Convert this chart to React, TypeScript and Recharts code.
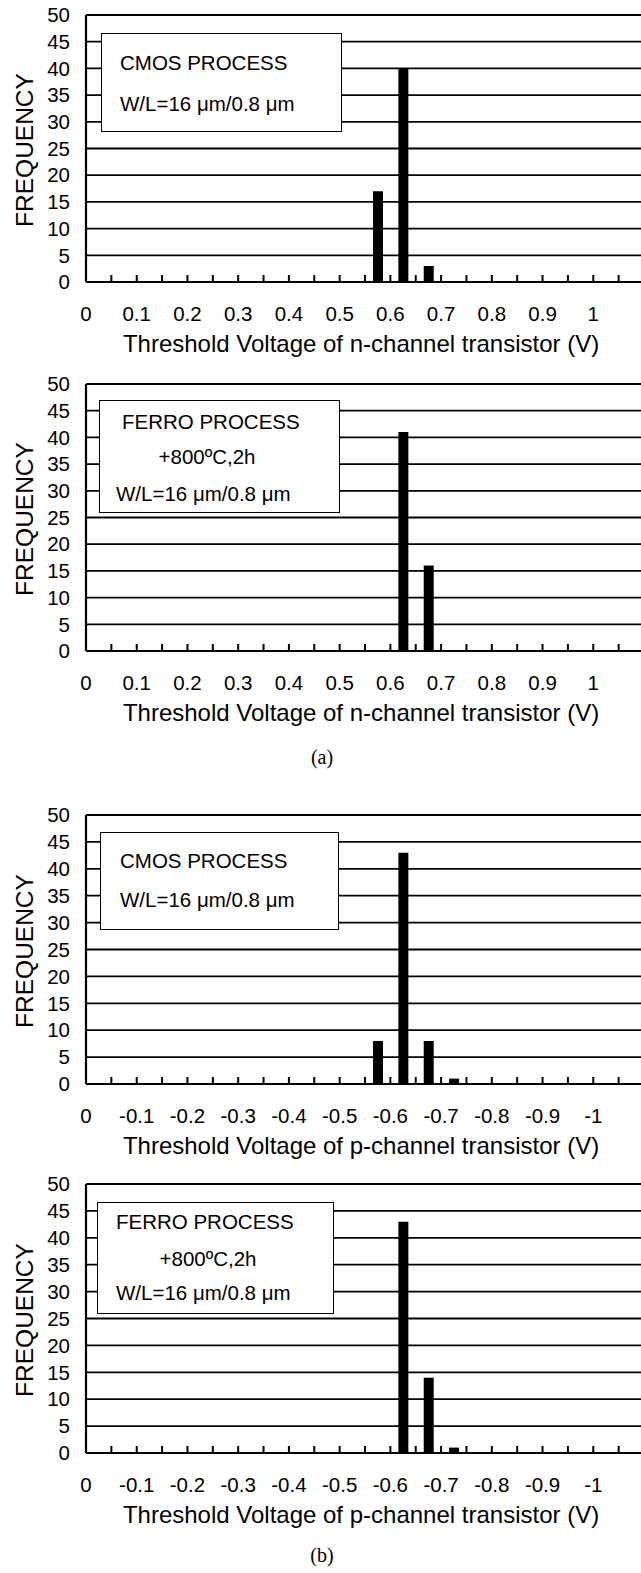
import { BarChart, Bar, XAxis, YAxis, CartesianGrid } from "recharts";

// bin centres (V) and counts
const nCmosBins = [0.575, 0.625, 0.675];
const nCmosCounts = [17, 40, 3];
const nFerroBins = [0.625, 0.675];
const nFerroCounts = [41, 16];
const pCmosBins = [-0.575, -0.625, -0.675, -0.725];
const pCmosCounts = [8, 43, 8, 1];
const pFerroBins = [-0.625, -0.675, -0.725];
const pFerroCounts = [43, 14, 1];

// x axis: tick marks every 0.05 V, labels every 0.1 V
const nTickMarks = [0, 0.05, 0.1, 0.15, 0.2, 0.25, 0.3, 0.35, 0.4, 0.45, 0.5, 0.55, 0.6, 0.65, 0.7, 0.75, 0.8, 0.85, 0.9, 0.95, 1, 1.05];
const nLabelValues = [0, 0.1, 0.2, 0.3, 0.4, 0.5, 0.6, 0.7, 0.8, 0.9, 1];
const nTickLabels = ["0", "0.1", "0.2", "0.3", "0.4", "0.5", "0.6", "0.7", "0.8", "0.9", "1"];
const pTickMarks = [0, -0.05, -0.1, -0.15, -0.2, -0.25, -0.3, -0.35, -0.4, -0.45, -0.5, -0.55, -0.6, -0.65, -0.7, -0.75, -0.8, -0.85, -0.9, -0.95, -1, -1.05];
const pLabelValues = [0, -0.1, -0.2, -0.3, -0.4, -0.5, -0.6, -0.7, -0.8, -0.9, -1];
const pTickLabels = ["0", "-0.1", "-0.2", "-0.3", "-0.4", "-0.5", "-0.6", "-0.7", "-0.8", "-0.9", "-1"];

const freqTicks = [0, 5, 10, 15, 20, 25, 30, 35, 40, 45, 50];

const cmosLines = ["CMOS PROCESS", "W/L=16 μm/0.8 μm"];
const ferroLines = ["FERRO PROCESS", "+800ºC,2h", "W/L=16 μm/0.8 μm"];

const FONT = '"Liberation Sans", Arial, Helvetica, sans-serif';
const AXIS_LEFT = 86;
const PLOT_W = 558;
const TICK_FONT = 20.5;
const TICK_LEN = 7; // ticks point up into the plot

function makeXTick(values: number[], labels: string[]) {
  return (props: any) => {
    const { x, y, payload } = props;
    const idx = values.findIndex((v) => Math.abs(v - payload.value) < 1e-9);
    if (idx < 0) return <g />;
    return (
      <text
        x={x}
        y={y + TICK_LEN + 31.5}
        textAnchor="middle"
        dominantBaseline="central"
        fontFamily={FONT}
        fontSize={TICK_FONT}
        fill="#000"
      >
        {labels[idx]}
      </text>
    );
  };
}

type BoxLine = { text: string; y: number; left?: number; center?: number };

interface PanelProps {
  plotTop: number;
  plotH: number;
  bins: number[];
  counts: number[];
  negative: boolean;
  title: string;
  box: { left: number; top: number; width: number; height: number };
  lines: BoxLine[];
}

function Panel({ plotTop, plotH, bins, counts, negative, title, box, lines }: PanelProps) {
  const data = bins.map((b, i) => ({ v: b, count: counts[i] }));
  const panelTop = plotTop - 15;
  const marks = negative ? pTickMarks : nTickMarks;
  const tick = negative
    ? makeXTick(pLabelValues, pTickLabels)
    : makeXTick(nLabelValues, nTickLabels);
  const plotBottom = plotTop + plotH;

  return (
    <>
      <div style={{ position: "absolute", left: 0, top: panelTop }}>
        <BarChart
          width={AXIS_LEFT + PLOT_W}
          height={15 + plotH + 70}
          data={data}
          margin={{ top: 15, right: 0, bottom: 0, left: 0 }}
        >
          <CartesianGrid vertical={false} stroke="#000" strokeWidth={1.8} />
          <XAxis
            dataKey="v"
            type="number"
            domain={negative ? [-1.1, 0] : [0, 1.1]}
            reversed={negative}
            ticks={marks}
            interval={0}
            height={70}
            tickSize={-TICK_LEN}
            tickMargin={0}
            tickLine={{ stroke: "#000", strokeWidth: 2 }}
            axisLine={{ stroke: "#000", strokeWidth: 2.2 }}
            tick={tick}
          />
          <YAxis
            type="number"
            domain={[0, 50]}
            ticks={freqTicks}
            interval={0}
            width={AXIS_LEFT}
            tickSize={0}
            tickMargin={16}
            tickLine={false}
            axisLine={{ stroke: "#000", strokeWidth: 2.2 }}
            tick={{ fill: "#000", fontSize: TICK_FONT, fontFamily: FONT }}
          />
          <Bar dataKey="count" fill="#000" barSize={10} isAnimationActive={false} />
        </BarChart>
      </div>

      <div
        style={{
          position: "absolute",
          left: box.left,
          top: box.top,
          width: box.width,
          height: box.height,
          boxSizing: "border-box",
          border: "1.6px solid #000",
          background: "#fff",
        }}
      />
      {lines.map((l, i) => (
        <div
          key={i}
          style={{
            position: "absolute",
            top: l.y - 12,
            height: 24,
            lineHeight: "24px",
            left: l.center !== undefined ? l.center - 100 : l.left,
            width: l.center !== undefined ? 200 : undefined,
            textAlign: l.center !== undefined ? "center" : "left",
            fontFamily: FONT,
            fontSize: 20.5,
            whiteSpace: "nowrap",
            color: "#000",
          }}
        >
          {l.text}
        </div>
      ))}

      <div
        style={{
          position: "absolute",
          left: 25 - 100,
          top: plotTop + plotH / 2 + 1 - 14,
          width: 200,
          height: 28,
          lineHeight: "28px",
          textAlign: "center",
          transform: "rotate(-90deg)",
          fontFamily: FONT,
          fontSize: 24.5,
          color: "#000",
        }}
      >
        FREQUENCY
      </div>

      <div
        style={{
          position: "absolute",
          left: 361 - 300,
          top: plotBottom + 62 - 14,
          width: 600,
          height: 28,
          lineHeight: "28px",
          textAlign: "center",
          fontFamily: FONT,
          fontSize: 24,
          color: "#000",
          whiteSpace: "nowrap",
        }}
      >
        {title}
      </div>
    </>
  );
}

function Caption({ y, text }: { y: number; text: string }) {
  return (
    <div
      style={{
        position: "absolute",
        left: 322 - 50,
        top: y - 13,
        width: 100,
        height: 26,
        lineHeight: "26px",
        textAlign: "center",
        fontFamily: '"Liberation Serif", "DejaVu Serif", serif',
        fontSize: 20,
        color: "#000",
      }}
    >
      {text}
    </div>
  );
}

export default function App() {
  return (
    <div
      style={{
        position: "absolute",
        left: 0,
        top: 0,
        width: 641,
        height: 1573,
        overflow: "hidden",
        background: "#fff",
      }}
    >
      <Panel
        plotTop={15}
        plotH={267}
        bins={nCmosBins}
        counts={nCmosCounts}
        negative={false}
        title="Threshold Voltage of n-channel transistor (V)"
        box={{ left: 101, top: 33, width: 241, height: 99 }}
        lines={[
          { text: cmosLines[0], y: 63, left: 120 },
          { text: cmosLines[1], y: 104, left: 120 },
        ]}
      />
      <Panel
        plotTop={384}
        plotH={267}
        bins={nFerroBins}
        counts={nFerroCounts}
        negative={false}
        title="Threshold Voltage of n-channel transistor (V)"
        box={{ left: 99, top: 400, width: 241, height: 113 }}
        lines={[
          { text: ferroLines[0], y: 422, left: 122 },
          { text: ferroLines[1], y: 457, center: 207 },
          { text: ferroLines[2], y: 494, left: 116 },
        ]}
      />
      <Caption y={757} text="(a)" />
      <Panel
        plotTop={815}
        plotH={269}
        bins={pCmosBins}
        counts={pCmosCounts}
        negative={true}
        title="Threshold Voltage of p-channel transistor (V)"
        box={{ left: 100, top: 832, width: 239, height: 98 }}
        lines={[
          { text: cmosLines[0], y: 861, left: 120 },
          { text: cmosLines[1], y: 900, left: 120 },
        ]}
      />
      <Panel
        plotTop={1184}
        plotH={269}
        bins={pFerroBins}
        counts={pFerroCounts}
        negative={true}
        title="Threshold Voltage of p-channel transistor (V)"
        box={{ left: 97, top: 1202, width: 237, height: 112 }}
        lines={[
          { text: ferroLines[0], y: 1222, left: 116 },
          { text: ferroLines[1], y: 1259, center: 208 },
          { text: ferroLines[2], y: 1293, left: 116 },
        ]}
      />
      <Caption y={1555} text="(b)" />
    </div>
  );
}
